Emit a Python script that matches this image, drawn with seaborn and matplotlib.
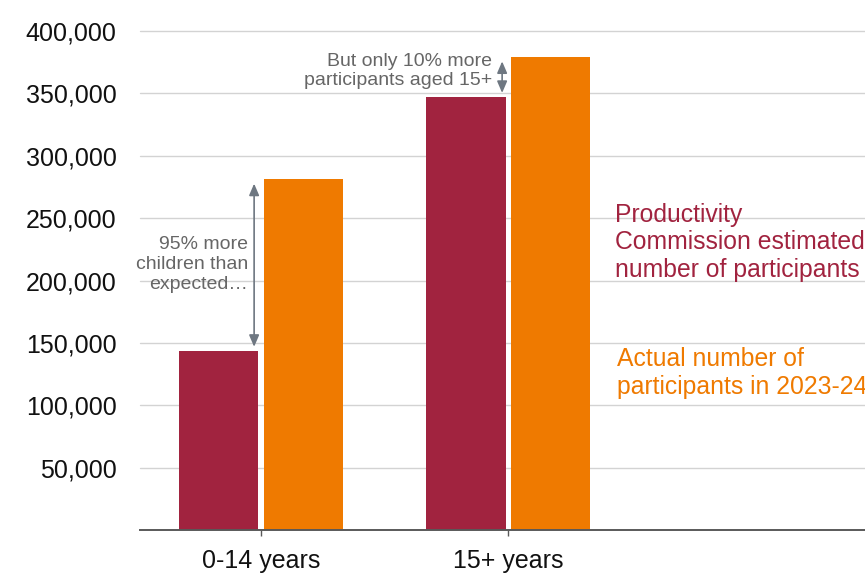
import matplotlib
matplotlib.use("Agg")
import matplotlib.pyplot as plt
import seaborn as sns
import pandas as pd

# Participant counts by age group
age_groups = ["0-14 years", "15+ years"]
series_names = ["Productivity Commission estimate", "Actual 2023-24"]
pc_estimate = [143500, 347000]
actual_2023_24 = [281000, 379000]
y_ticks = [50000, 100000, 150000, 200000, 250000, 300000, 350000, 400000]

MAROON = "#A1233F"
ORANGE = "#EF7A00"
NOTE_GREY = "#666666"
ARROW_GREY = "#6E7781"

df = pd.DataFrame({
    "age": age_groups * 2,
    "series": [series_names[0]] * 2 + [series_names[1]] * 2,
    "value": pc_estimate + actual_2023_24,
})

sns.set_theme(style="white")
plt.rcParams["font.family"] = ["Liberation Sans", "DejaVu Sans"]

fig = plt.figure(figsize=(8.65, 5.73), dpi=100)
ax = fig.add_axes([140 / 865, 43 / 573, 1 - 140 / 865, 499 / 573])

sns.barplot(data=df, x="age", y="value", hue="series",
            palette=[MAROON, ORANGE], width=0.688, gap=0.06,
            saturation=1, linewidth=0, legend=False, ax=ax)

ax.set_xlim(-0.49, 2.445)
ax.set_ylim(0, 400000)
ax.set_yticks(y_ticks)
ax.set_yticklabels([f"{v:,}" for v in y_ticks])
ax.set_xlabel("")
ax.set_ylabel("")

ax.grid(axis="y", color="#D3D3D3", linewidth=1.0)
ax.set_axisbelow(True)
for gl in ax.get_ygridlines():
    gl.set_clip_on(False)
for side in ["top", "right", "left"]:
    ax.spines[side].set_visible(False)
ax.spines["bottom"].set_color("#595959")
ax.spines["bottom"].set_linewidth(1.4)

ax.tick_params(axis="y", length=0, pad=17, labelsize=18, labelcolor="#111111")
ax.tick_params(axis="x", length=4, width=1, color="#595959", pad=10,
               labelsize=18, labelcolor="#111111", bottom=True)

# Gap arrows between estimate and actual
arrow_kw = dict(arrowstyle="<|-|>,head_length=0.7,head_width=0.3",
                color=ARROW_GREY, lw=1.2, shrinkA=3, shrinkB=3,
                mutation_scale=10)
ax.annotate("", xy=(-0.028, actual_2023_24[0]), xytext=(-0.028, pc_estimate[0]),
            arrowprops=arrow_kw)
ax.annotate("", xy=(0.976, actual_2023_24[1]), xytext=(0.976, pc_estimate[1]),
            arrowprops=arrow_kw)

ax.text(-0.053, 212800, "95% more\nchildren than\nexpected…", ha="right",
        va="center", fontsize=14, color=NOTE_GREY, linespacing=1.2)
ax.text(0.935, 368000, "But only 10% more\nparticipants aged 15+", ha="right",
        va="center", fontsize=14, color=NOTE_GREY, linespacing=1.17)

# Direct series labels
ax.text(1.433, 230500, "Productivity\nCommission estimated\nnumber of participants",
        ha="left", va="center", fontsize=17.8, color=MAROON, linespacing=1.2,
        clip_on=False)
ax.text(1.441, 126000, "Actual number of\nparticipants in 2023-24",
        ha="left", va="center", fontsize=17.8, color=ORANGE, linespacing=1.2,
        clip_on=False)

fig.savefig("out.png", dpi=100)
